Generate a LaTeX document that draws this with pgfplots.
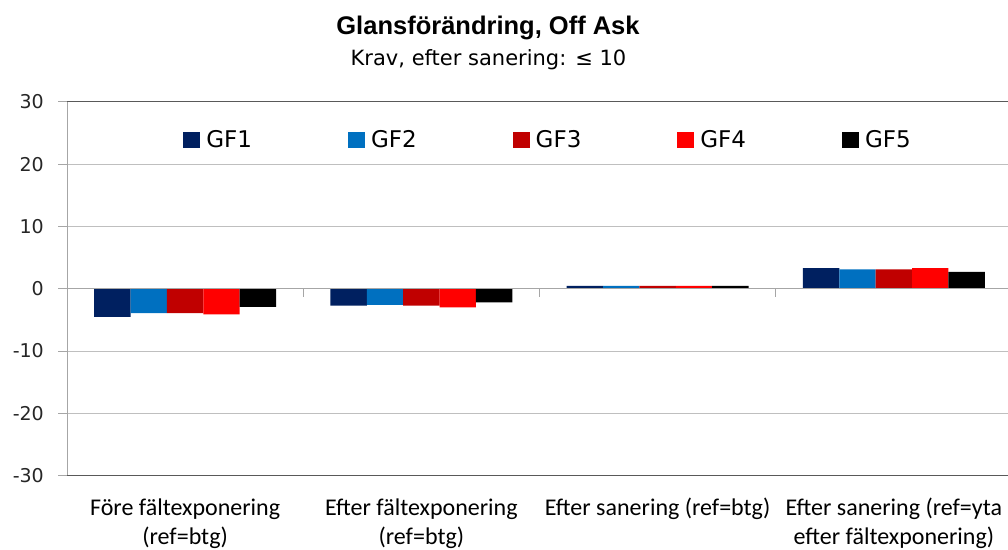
\documentclass[border=0pt]{standalone}
\usepackage{pgfplots}
\pgfplotsset{compat=1.18}
\usepackage{fontspec}
\setmainfont{Carlito}
\newfontfamily\dejavu{DejaVu Sans}
\newfontfamily\arialb{Liberation Sans}
\definecolor{gfa}{HTML}{002060}
\definecolor{gfb}{HTML}{0070C0}
\definecolor{gfc}{HTML}{C00000}
\definecolor{gfd}{HTML}{FF0000}
\definecolor{gfe}{HTML}{000000}
\definecolor{gridc}{HTML}{BFBFBF}
\definecolor{axc}{HTML}{A6A6A6}
\definecolor{darkc}{HTML}{595959}
\begin{document}
\begin{tikzpicture}
\begin{axis}[
  at={(67pt,73.5pt)}, anchor=south west,
  scale only axis, width=945pt, height=373.5pt,
  xmin=-0.5, xmax=3.5, ymin=-30, ymax=30,
  axis x line=none, axis y line=left,
  axis line style={-, draw=axc, line width=1pt},
  ytick={-30,-20,-10,0,10,20,30},
  yticklabels={-30,-20,-10,0,10,20,30},
  tick align=outside, major tick length=9pt,
  ytick style={draw=axc, line width=1pt},
  yticklabel style={font=\dejavu\fontsize{19}{22}\selectfont, text=black!85, inner sep=0pt, xshift=-14pt},
  ymajorgrids, grid style={draw=gridc, line width=1pt},
  ybar=0pt, bar width=0.154,
  clip=false,
  legend columns=5,
  legend style={draw=none, fill=none, at={(0.508,0.898)}, anchor=center,
    font=\dejavu\fontsize{23}{26}\selectfont, inner sep=0pt, nodes={inner sep=0pt},
    /tikz/every odd column/.append style={column sep=6pt},
    /tikz/every even column/.append style={column sep=96pt}},
  sq/.style={legend image code/.code={\fill[##1] (0pt,-8pt) rectangle (17pt,8pt);}},
]
\addplot[fill=gfa, draw=none, sq] coordinates {(0,-4.5) (1,-2.7) (2,0.45) (3,3.3)};
\addplot[fill=gfb, draw=none, sq] coordinates {(0,-3.9) (1,-2.6) (2,0.45) (3,3.1)};
\addplot[fill=gfc, draw=none, sq] coordinates {(0,-3.9) (1,-2.7) (2,0.45) (3,3.1)};
\addplot[fill=gfd, draw=none, sq] coordinates {(0,-4.1) (1,-3.0) (2,0.45) (3,3.3)};
\addplot[fill=gfe, draw=none, sq] coordinates {(0,-2.9) (1,-2.2) (2,0.45) (3,2.7)};
\legend{GF1,GF2,GF3,GF4,GF5}
\draw[darkc, line width=1pt] (axis cs:-0.5,30) -- (axis cs:3.5,30);
\draw[darkc, line width=1pt] (axis cs:-0.5,-30) -- (axis cs:3.5,-30);
\draw[axc, line width=1pt] (axis cs:-0.5,0) -- (axis cs:3.5,0);
\pgfplotsinvokeforeach{0.5,1.5,2.5,3.5}{\draw[axc, line width=1pt] (axis cs:#1,0) -- ++(0pt,-8pt);}
\node[anchor=north, align=center, inner sep=0pt, font=\fontsize{24}{29}\selectfont, yshift=-19pt] at (axis cs:0,-30) {\strut Före fältexponering\\(ref=btg)};
\node[anchor=north, align=center, inner sep=0pt, font=\fontsize{24}{29}\selectfont, yshift=-19pt] at (axis cs:1,-30) {\strut Efter fältexponering\\(ref=btg)};
\node[anchor=north, align=center, inner sep=0pt, font=\fontsize{24}{29}\selectfont, yshift=-19pt] at (axis cs:2,-30) {\strut Efter sanering (ref=btg)};
\node[anchor=north, align=center, inner sep=0pt, font=\fontsize{24}{29}\selectfont, yshift=-19pt] at (axis cs:3,-30) {\strut Efter sanering (ref=yta\\efter fältexponering)};
\end{axis}
\node[font=\arialb\bfseries\fontsize{25.5}{28}\selectfont, anchor=center] at (488pt,521pt) {Glansförändring, Off Ask};
\node[font=\dejavu\fontsize{21}{24}\selectfont, anchor=center] at (488.5pt,489pt) {Krav, efter sanering: ≤ 10};
\pgfresetboundingbox
\useasboundingbox (0pt,0pt) rectangle (1008pt,549pt);
\end{tikzpicture}
\end{document}
